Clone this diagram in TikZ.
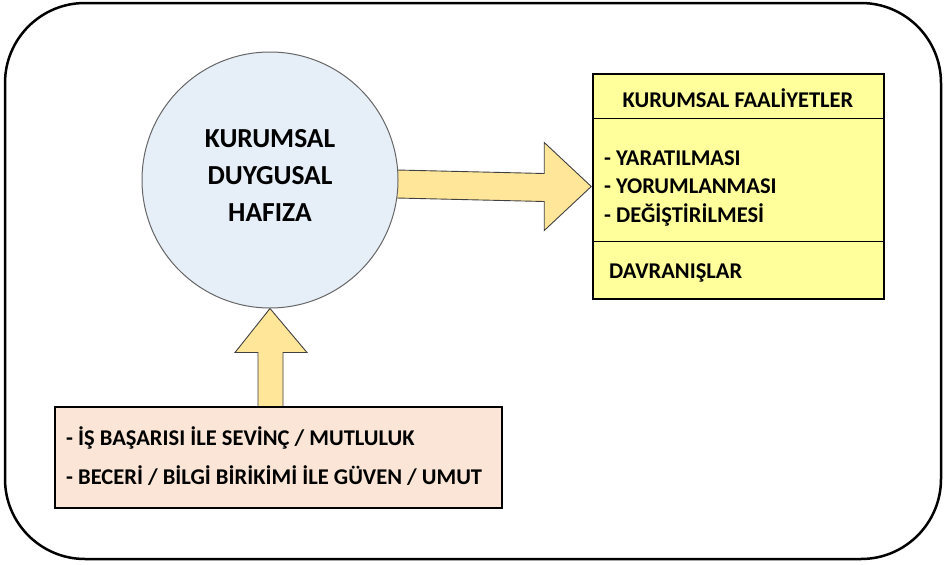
\documentclass[tikz,border=0pt]{standalone}
\usepackage{fontspec}
\setmainfont{Carlito}
\usetikzlibrary{backgrounds,calc}

\definecolor{memfill}{HTML}{E6EEF8}
\definecolor{arrowfill}{HTML}{FFE699}
\definecolor{actfill}{HTML}{FFFF9B}
\definecolor{srcfill}{HTML}{FBE5D6}

\tikzset{
  frame/.style={draw=black, line width=2.5pt, rounded corners=80pt},
  memory/.style={circle, draw=black!60, line width=1pt, fill=memfill,
    minimum size=256pt, inner sep=0pt},
  panel/.style={rectangle, draw=black, line width=1.5pt, inner sep=0pt},
  divider/.style={draw=black, line width=1pt},
  blockarrow/.style={draw=black!75, line width=0.9pt, fill=arrowfill, line join=miter},
  txt/.style={font=\bfseries\fontsize{22.5}{27}\selectfont, inner sep=0pt, anchor=west},
  memtxt/.style={font=\bfseries\fontsize{27.5}{37}\selectfont, align=center, inner sep=0pt},
}

\begin{document}
\begin{tikzpicture}[x=1pt, y=-1pt]
  \useasboundingbox (0,0) rectangle (946,565);
  \draw[frame] (5,3) rectangle (941,559);

  % main nodes
  \node[memory] (mem) at (270,180) {};
  \node[memtxt] (memlabel) at (270,175) {KURUMSAL\\DUYGUSAL\\HAFIZA};

  \node[panel, fill=actfill, minimum width=291pt, minimum height=225pt]
    (act) at (738.5,186.5) {};
  \node[panel, fill=srcfill, minimum width=447pt, minimum height=101pt]
    (src) at (278.5,457.5) {};

  % dividers of the activity panel
  \draw[divider] (act.west |- 0,118) -- (act.east |- 0,118);
  \draw[divider] (act.west |- 0,241) -- (act.east |- 0,241);

  % activity panel texts
  \node[txt, anchor=center] (acttitle) at (738,98) {KURUMSAL FAALİYETLER};
  \node[txt] (a1) at (604,158) {- YARATILMASI};
  \node[txt] (a2) at (604,186) {- YORUMLANMASI};
  \node[txt] (a3) at (604,215) {- DEĞİŞTİRİLMESİ};
  \node[txt] (a4) at (609,273) {DAVRANIŞLAR};

  % source panel texts
  \node[txt] (s1) at (66,438) {- İŞ BAŞARISI İLE SEVİNÇ / MUTLULUK};
  \node[txt] (s2) at (66,476) {- BECERİ / BİLGİ BİRİKİMİ İLE GÜVEN / UMUT};

  % block arrows, behind the circle
  \begin{scope}[on background layer]
    % memory -> activities
    \draw[blockarrow]
      ($(mem.center)+(0,-13)$) -- ($(act.west)+(-48,-13)$)
      -- ($(act.west)+(-48,-44)$) -- ($(act.west)+(-1,0)$)
      -- ($(act.west)+(-48,44)$) -- ($(act.west)+(-48,15)$)
      -- ($(mem.center)+(0,15)$);
    % sources -> memory
    \draw[blockarrow]
      ($(src.north)+(-20.5,0)$) -- ($(mem.south)+(-12,44)$)
      -- ($(mem.south)+(-35,44)$) -- (mem.south)
      -- ($(mem.south)+(37,44)$) -- ($(mem.south)+(13,44)$)
      -- ($(src.north)+(4.5,0)$);
  \end{scope}
\end{tikzpicture}
\end{document}
